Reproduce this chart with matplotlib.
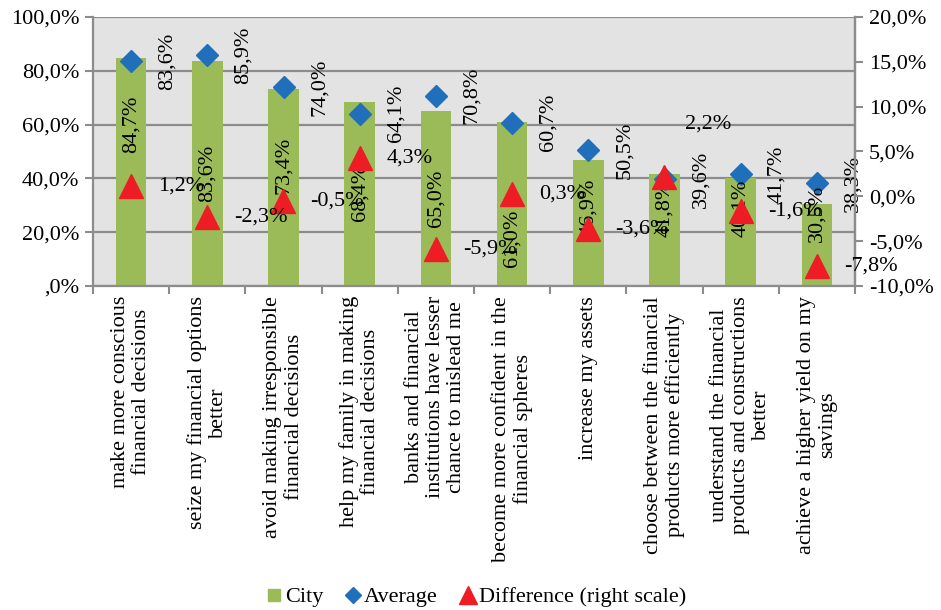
import matplotlib
matplotlib.use("Agg")
import matplotlib.pyplot as plt
from matplotlib.ticker import FuncFormatter, MultipleLocator
from matplotlib.lines import Line2D
import numpy as np

categories = [
    "make more conscious\nfinancial decisions",
    "seize my financial options\nbetter",
    "avoid making irresponsible\nfinancial decisions",
    "help my family in making\nfinancial decisions",
    "banks and financial\ninstitutions have lesser\nchance to mislead me",
    "become more confident in the\nfinancial spheres",
    "increase my assets",
    "choose between the financial\nproducts more efficiently",
    "understand the financial\nproducts and constructions\nbetter",
    "achieve a higher yield on my\nsavings",
]
city = [84.7, 83.6, 73.4, 68.4, 65.0, 61.0, 46.9, 41.8, 40.1, 30.5]
average = [83.6, 85.9, 74.0, 64.1, 70.8, 60.7, 50.5, 39.6, 41.7, 38.3]
difference = [1.2, -2.3, -0.5, 4.3, -5.9, 0.3, -3.6, 2.2, -1.6, -7.8]

# label placement (left-axis % for city labels; pixel offsets for difference labels)
city_label_y = [60.2, 42.0, 45.0, 35.0, 32.7, 17.8, 29.4, 29.0, 29.0, 27.0]
diff_label_off = [(27, 0)] * 7 + [(21, 53)] + [(27, 0)] * 2

plt.rcParams['font.family'] = ['Liberation Serif', 'DejaVu Serif']
FS = 16

GREEN = "#9BBB59"
BLUE = "#1F6FBA"
RED = "#EE1C25"
GRID = "#8C8C8C"

fig = plt.figure(figsize=(9.41, 6.10), dpi=100)
ax = fig.add_axes([93/941, 1-286/610, (855-93)/941, (286-17)/610])
ax.set_facecolor("#E3E3E3")

x = np.arange(len(categories))
ax.bar(x, city, width=0.4, color=GREEN, zorder=2)
ax.plot(x, average, linestyle='none', marker='D', markersize=11, color=BLUE, zorder=4)

ax.set_xlim(-0.5, len(categories) - 0.5)
ax.set_ylim(0, 100)
ax.yaxis.set_major_locator(MultipleLocator(20))

def lfmt(v, pos):
    s = f"{v:.1f}".replace('.', ',') + "%"
    if abs(v) < 1e-9:
        s = ",0%"
    return s
ax.yaxis.set_major_formatter(FuncFormatter(lfmt))
ax.grid(axis='y', color=GRID, linewidth=1.6, zorder=0)
ax.set_axisbelow(True)

ax.set_xticks(np.arange(-0.5, len(categories), 1.0))
ax.set_xticklabels([])
ax.tick_params(axis='x', direction='out', length=6, width=1.5, color=GRID)
ax.tick_params(axis='y', direction='out', length=6, width=1.5, color=GRID, labelsize=FS, pad=4)
ax.spines['top'].set_visible(False)
for s in ['left', 'bottom', 'right']:
    ax.spines[s].set_color(GRID)
    ax.spines[s].set_linewidth(1.6)

for i, lab in enumerate(categories):
    ax.annotate(lab, xy=(i, 0), xycoords=('data', 'axes fraction'),
                xytext=(0, -10), textcoords='offset pixels',
                rotation=90, ha='center', va='top', multialignment='center',
                fontsize=FS, linespacing=1.15)

ax2 = ax.twinx()
ax2.set_ylim(-10, 20)
ax2.yaxis.set_major_locator(MultipleLocator(5))
ax2.yaxis.set_major_formatter(FuncFormatter(lambda v, p: f"{v:.1f}".replace('.', ',') + "%"))
ax2.plot(x, difference, linestyle='none', marker='^', markersize=17, color=RED, zorder=5)
ax2.tick_params(axis='y', direction='out', length=6, width=1.5, color=GRID, labelsize=FS, pad=4)
for s in ['top', 'left', 'bottom']:
    ax2.spines[s].set_visible(False)
ax2.spines['right'].set_color(GRID)
ax2.spines['right'].set_linewidth(1.6)

def pct(v):
    return f"{v:.1f}".replace('.', ',') + "%"

for i in range(len(categories)):
    ax.text(i, city_label_y[i], pct(city[i]), rotation=90, ha='center', va='center',
            fontsize=FS, zorder=6)
    ax.annotate(pct(average[i]), xy=(i, average[i]), xytext=(36, 0),
                textcoords='offset pixels', rotation=90, ha='center', va='center',
                fontsize=FS, zorder=6)
    dx, dy = diff_label_off[i]
    ax2.annotate(pct(difference[i]), xy=(i, difference[i]), xytext=(dx, dy),
                 textcoords='offset pixels', ha='left', va='center',
                 fontsize=FS, zorder=6)

handles = [
    Line2D([], [], linestyle='none', marker='s', markersize=8, color=GREEN),
    Line2D([], [], linestyle='none', marker='D', markersize=8, color=BLUE),
    Line2D([], [], linestyle='none', marker='^', markersize=13, color=RED),
]
fig.legend(handles, ["City", "Average", "Difference (right scale)"],
           loc='center', bbox_to_anchor=(476/941, 1-597/610), ncol=3, frameon=False,
           fontsize=FS, handlelength=0.7, handletextpad=0.15, columnspacing=1.0)

fig.savefig("out.png", dpi=100)
